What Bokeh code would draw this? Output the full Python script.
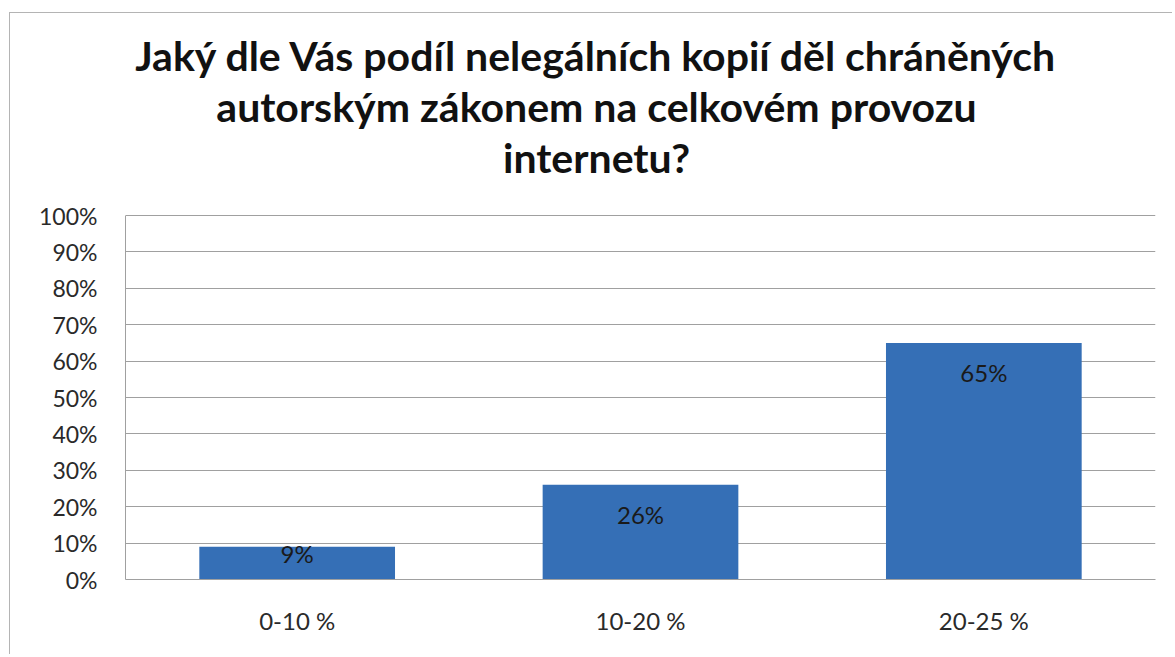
from bokeh.plotting import figure
from bokeh.models import FactorRange, Range1d, FixedTicker, NumeralTickFormatter, Label, ColumnDataSource
from bokeh.core.properties import value
from bokeh.embed import file_html
from bokeh.resources import INLINE

categories = ["0-10 %", "10-20 %", "20-25 %"]
shares = [0.09, 0.26, 0.65]
share_labels = ["9%", "26%", "65%"]
y_ticks = [0.0, 0.1, 0.2, 0.3, 0.4, 0.5, 0.6, 0.7, 0.8, 0.9, 1.0]
title_lines = ["Jaký dle Vás podíl nelegálních kopií děl chráněných",
               "autorským zákonem na celkovém provozu",
               "internetu?"]

FONT = "Lato"
# layout (px): value axis 0..100 % spans 364 px; title area of 202 px above it
AXIS_H = 364.0
TITLE_AREA = 202.0
FRAME_W = 1030.0
offsets = [min(30.0, v * AXIS_H - 26.0) for v in shares]

src = ColumnDataSource(dict(cat=categories, val=shares, lab=share_labels, off=offsets))

p = figure(
    x_range=FactorRange(*categories, range_padding=0.0),
    y_range=Range1d(0, 1 + TITLE_AREA / AXIS_H),
    width=1163, height=642,
    output_backend="svg", toolbar_location=None,
    min_border_left=115, min_border_right=18, min_border_top=0, min_border_bottom=76,
)
p.margin = (13, 0, 0, 10)
p.styles = {"box-shadow": "-1px -1px 0 0 #b4b4b4"}
p.outline_line_color = None
p.background_fill_color = "white"
p.border_fill_color = "white"

# title: three centred lines in the area above the 100 % line
title_shift_px = 596 - 640            # title centre relative to frame centre
baselines_px = [160, 109, 58]         # px above the 100 % line
for line, b in zip(title_lines, baselines_px):
    p.add_layout(Label(x=len(categories) / 2 + title_shift_px * len(categories) / FRAME_W,
                       y=1 + b / AXIS_H, text=line,
                       text_align="center", text_baseline="alphabetic",
                       text_font=FONT, text_font_size="41px", text_font_style="bold",
                       text_color="#111111"))

p.vbar(x="cat", top="val", width=0.57, source=src, fill_color="#356fb6", line_color=None)
p.text(x="cat", y="val", text="lab", y_offset="off", source=src, text_align="center",
       text_baseline="middle", text_font=value(FONT), text_font_size="24px", text_color="#1a1a1a")

p.xgrid.grid_line_color = None
p.ygrid.grid_line_color = "#a0a0a0"
p.ygrid.grid_line_width = 1
p.yaxis.ticker = FixedTicker(ticks=y_ticks)
p.ygrid.ticker = FixedTicker(ticks=y_ticks)
p.yaxis.formatter = NumeralTickFormatter(format="0%")
p.yaxis.bounds = (0, 1)

for ax in (p.xaxis, p.yaxis):
    ax.major_tick_line_color = None
    ax.minor_tick_line_color = None
    ax.axis_line_color = "#a0a0a0"
    ax.major_label_text_font = FONT
    ax.major_label_text_color = "#2a2a2a"
p.yaxis.major_label_text_font_size = "23px"
p.xaxis.major_label_text_font_size = "24px"
p.yaxis.major_label_standoff = 22
p.xaxis.major_label_standoff = 20

open("out.html", "w").write(file_html(p, INLINE))
